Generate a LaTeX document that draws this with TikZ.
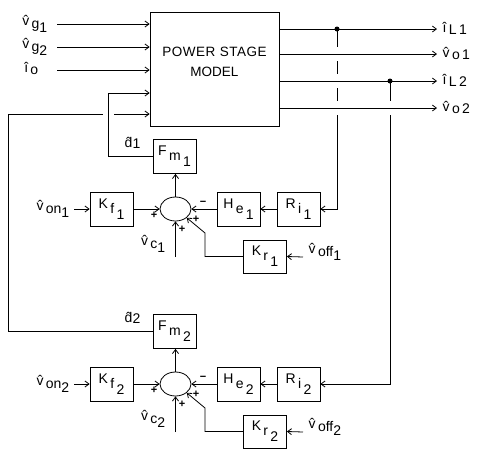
\documentclass[tikz,border=0pt]{standalone}
\usepackage{fontspec}
\setmainfont{Liberation Sans}
\usetikzlibrary{arrows.meta, positioning, calc, shapes.geometric}
\tikzset{>={Straight Barb[length=4pt,width=6pt]}}

% hatted signal with lowered subscripts
\newcommand{\insig}[3]{\^{#1}\,\raisebox{-3pt}{#2\raisebox{-4pt}{#3}}}
\newcommand{\outsig}[3]{\^{#1}\,\raisebox{-2pt}{#2\,#3}}
% block gain
\newcommand{\gain}[3]{#1\,\raisebox{-5pt}{#2\,\raisebox{-6pt}{#3}}}

\begin{document}
\begin{tikzpicture}[x=1pt, y=-1pt, thick, font=\fontsize{14}{16}\selectfont,
    gainbox/.style={draw, minimum width=43pt, minimum height=34pt, inner sep=0pt},
    sumnode/.style={draw, ellipse, minimum width=31pt, minimum height=24pt, inner sep=0pt},
    sgn/.style={font=\fontsize{11}{11}\selectfont\bfseries, inner sep=0pt},
    gap/.style={white, line width=3pt}]
    \useasboundingbox (0,0) rectangle (480,461);

    % power stage
    \node[draw, minimum width=129pt, minimum height=114pt] (ps) at (214.5,69) {};
    \node[align=center, inner sep=0pt, font=\fontsize{13.5}{14}\selectfont] (pslbl) at ([yshift=7.5pt]ps.center)
        {\addfontfeatures{LetterSpace=4}POWER STAGE\\[6pt]MODEL};

    % inputs
    \coordinate (vg1) at (57,24);
    \coordinate (vg2) at (57,47);
    \coordinate (io) at (57,70);
    \draw[->] (vg1) -- (vg1 -| ps.west);
    \draw[->] (vg2) -- (vg2 -| ps.west);
    \draw[->] (io) -- (io -| ps.west);
    \node[anchor=base east] at ($(vg1)+(-6,1)$) {\insig{v}{g}{1}};
    \node[anchor=base east] at ($(vg2)+(-6,1)$) {\insig{v}{g}{2}};
    \node[anchor=base east] at ($(io)+(-15,2)$) {\^{i}\,\raisebox{-2pt}{o}};

    % two control loops
    \foreach \n/\dy in {1/0, 2/175}
    {
        \begin{scope}[yshift=-\dy pt]
            \node[gainbox] (Fm\n) at (174.5,156.5) {\gain{F}{m}{\n}};
            \node[gainbox] (Kf\n) at (111.5,209) {\gain{K}{f}{\n}};
            \node[sumnode] (s\n) at (175.5,209) {};
            \node[gainbox] (He\n) at (238.5,209) {\gain{H}{e}{\n}};
            \node[gainbox] (Ri\n) at (298.5,209) {\gain{R}{i}{\n}};
            \node[gainbox, minimum height=33pt] (Kr\n) at (265,256.5) {\gain{K}{r}{\n}};
            \coordinate (von\n) at (74,209);
            \coordinate (vc\n) at (175.5,257);
            \coordinate (voff\n) at (303,257);
            \coordinate (kr\n) at (205,233);
            \draw[->] (von\n) -- (Kf\n);
            \draw[->] (Kf\n) -- (s\n);
            \draw[->] (He\n) -- (s\n);
            \draw[->] (Ri\n) -- (He\n);
            \draw[->] (s\n.north) -- (s\n.north |- Fm\n.south);
            \draw[->] (vc\n) -- (s\n.south);
            \draw[->] (Kr\n.west) -| (kr\n) -- (s\n.-38);
            \draw[->] (voff\n) -- (Kr\n.east);
            \node[anchor=base east] at (73,210) {\insig{v}{on}{\n}};
            \node[anchor=base east] at (169,245) {\insig{v}{c}{\n}};
            \node[anchor=base west] at (305,253) {\insig{v}{off}{\n}};
            \node[sgn] at (154,215) {+};
            \node[sgn] at (182,229) {+};
            \node[sgn] at (196,219) {+};
            \node[sgn] at (203,203) {−};
        \end{scope}
    }

    % duty cycle paths
    \coordinate (d1c) at (108,93);
    \coordinate (d2c) at (8,114);
    \draw[->] (Fm2.west) -| (d2c) -- (d2c -| ps.west);
    \draw[gap] (102.5,114) -- (113.5,114);
    \draw[->] (Fm1.west) -| (d1c) -- (d1c -| ps.west);
    \node[anchor=base west] at (121,147) {\^{d}\raisebox{-1pt}{1}};
    \node[anchor=base west] at (121,322) {\^{d}\raisebox{-1pt}{2}};

    % feedback
    \coordinate (br1) at (337,29);
    \coordinate (br2) at (390,81);
    \coordinate (fb1) at (337,209);
    \coordinate (fb2) at (390,384);
    \draw[->] (br1) -- (fb1) -- (Ri1.east);
    \draw[->] (br2) -- (fb2) -- (Ri2.east);
    \foreach \x/\y in {337/54, 337/81, 337/108, 390/108}
    {
        \draw[gap] (\x,\y-7) -- (\x,\y+7);
    }

    % outputs
    \coordinate (iL1) at (437,29);
    \coordinate (vo1) at (437,54);
    \coordinate (iL2) at (437,81);
    \coordinate (vo2) at (437,108);
    \draw[->] (iL1 -| ps.east) -- (iL1);
    \draw[->] (vo1 -| ps.east) -- (vo1);
    \draw[->] (iL2 -| ps.east) -- (iL2);
    \draw[->] (vo2 -| ps.east) -- (vo2);
    \fill (br1) circle (2.5pt);
    \fill (br2) circle (2.5pt);
    \node[anchor=base west] at ($(iL1)+(2,3)$) {\outsig{i}{L}{1}};
    \node[anchor=base west] at ($(vo1)+(2,3)$) {\outsig{v}{o}{1}};
    \node[anchor=base west] at ($(iL2)+(2,3)$) {\outsig{i}{L}{2}};
    \node[anchor=base west] at ($(vo2)+(2,3)$) {\outsig{v}{o}{2}};
\end{tikzpicture}
\end{document}
